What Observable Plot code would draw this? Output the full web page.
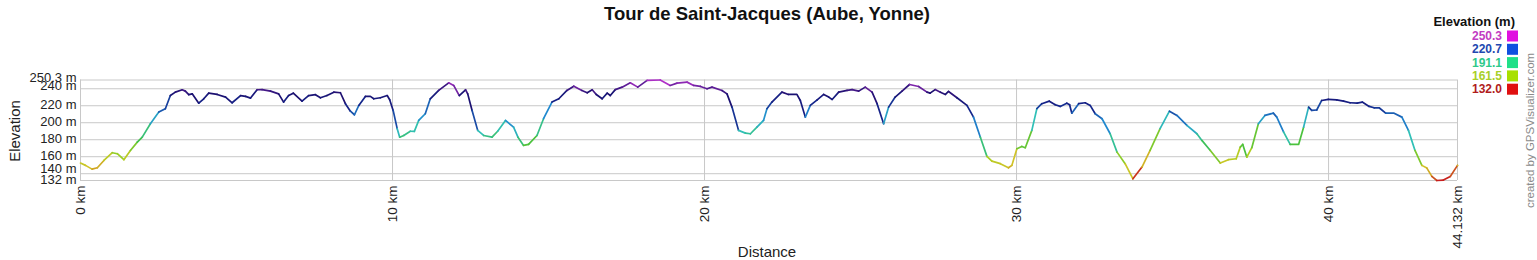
<!DOCTYPE html>
<html>
<head>
<meta charset="utf-8">
<script src="https://cdn.jsdelivr.net/npm/d3@7"></script>
<script src="https://cdn.jsdelivr.net/npm/@observablehq/plot@0.6"></script>
<style>
  html, body { margin: 0; padding: 0; background: #fff; }
  svg { display: block; }
</style>
</head>
<body>
<div id="chart"></div>
<script>
const title = "Tour de Saint-Jacques (Aube, Yonne)";
const xLabel = "Distance";
const yLabel = "Elevation";
const credit = "created by GPSVisualizer.com";
const legendTitle = "Elevation (m)";

const distanceKm = [
  0, 0.16, 0.37, 0.54, 0.75, 1.02, 1.18, 1.39, 1.60, 1.82, 1.98, 2.24, 2.51, 2.72, 2.88, 3.04, 3.26, 3.36, 3.47, 3.58,
  3.79, 3.95, 4.11, 4.38, 4.65, 4.86, 5.13, 5.29, 5.45, 5.66, 5.82, 6.09, 6.35, 6.51, 6.67, 6.82, 7.10, 7.31, 7.53, 7.69,
  7.90, 8.12, 8.33, 8.49, 8.65, 8.78, 8.92, 9.13, 9.29, 9.40, 9.61, 9.83, 9.91, 10.02, 10.15, 10.23, 10.36, 10.57, 10.70, 10.84,
  11.05, 11.21, 11.48, 11.80, 11.96, 12.14, 12.34, 12.41, 12.55, 12.73, 12.92, 13.19, 13.37, 13.62, 13.88, 14.02, 14.20, 14.36, 14.63, 14.84,
  15.11, 15.33, 15.59, 15.81, 16.07, 16.24, 16.40, 16.53, 16.72, 16.88, 16.98, 17.14, 17.36, 17.62, 17.86, 18.16, 18.58, 18.90, 19.12, 19.44,
  19.65, 19.87, 20.08, 20.24, 20.56, 20.72, 20.88, 21.09, 21.31, 21.47, 21.68, 21.89, 22.00, 22.16, 22.48, 22.69, 22.96, 23.07, 23.23, 23.39,
  23.61, 23.82, 23.98, 24.09, 24.30, 24.57, 24.73, 24.94, 25.15, 25.37, 25.53, 25.74, 25.90, 26.11, 26.33, 26.57, 26.86, 27.13, 27.23, 27.39,
  27.56, 27.72, 27.82, 28.09, 28.41, 28.62, 28.84, 29.05, 29.21, 29.48, 29.74, 29.85, 30.01, 30.17, 30.28, 30.49, 30.65, 30.81, 31.05, 31.24,
  31.40, 31.61, 31.70, 31.77, 31.99, 32.20, 32.36, 32.52, 32.74, 33.00, 33.22, 33.48, 33.73, 34.02, 34.28, 34.60, 34.90, 35.14, 35.46, 35.78,
  35.94, 36.21, 36.53, 36.79, 37.04, 37.17, 37.25, 37.38, 37.54, 37.75, 37.96, 38.23, 38.34, 38.56, 38.77, 39.04, 39.20, 39.36, 39.46, 39.62,
  39.78, 39.99, 40.26, 40.48, 40.69, 40.92, 41.08, 41.30, 41.46, 41.62, 41.83, 42.10, 42.35, 42.56, 42.77, 42.99, 43.15, 43.31, 43.47, 43.68,
  43.90, 44.132
];
const elevationM = [
  152.5, 149.8, 145.4, 147, 155.6, 164.7, 163.5, 156.5, 167.4, 177.2, 183, 198.8, 212.5, 216.5, 232, 236, 238.8, 237.2, 233, 234,
  223, 228.2, 234.8, 233.3, 230.2, 223.5, 232, 231, 229, 238.8, 239, 237.2, 234, 224.3, 232, 234.8, 225.4, 232, 233, 229.4,
  232, 236, 235.3, 222.4, 213.6, 209.4, 220.4, 231, 231, 228.2, 229.4, 232, 227, 214.5, 193, 183, 185, 190, 189.8, 202.7,
  210.6, 228.2, 238, 247, 243.9, 232, 238.8, 234, 214.5, 191, 185, 183, 190, 202.7, 194.8, 183, 173.3, 174.5, 185, 204.7,
  224.3, 228.2, 238, 243, 238, 235.3, 238.8, 233.3, 228.2, 234.8, 232, 239, 241.9, 247, 241.9, 249.8, 250.3, 243.9, 246.6, 247.8,
  243.9, 242.7, 240, 241.9, 238, 234, 218.4, 191, 187.8, 187, 194.8, 202.7, 216.5, 224.3, 236, 233.3, 233.3, 226.2, 206.6, 220.4,
  227, 233.3, 230.2, 227.4, 236, 238, 239, 237.2, 241.9, 236, 222.4, 198.8, 218.4, 230.2, 237.2, 245, 242.7, 236, 234.8, 239,
  236, 233.3, 236.8, 229.4, 220.4, 206.6, 183, 160.4, 154.8, 151.8, 147, 149.8, 169.4, 172.1, 170.6, 191, 216.5, 222.4, 225.4, 221.2,
  219.2, 223, 221.2, 211.3, 222.4, 223.5, 220.4, 210.6, 204.7, 187, 165.4, 151.8, 134, 147.8, 167.4, 193, 213.6, 208.6, 196.8, 187,
  179.2, 167.4, 152.5, 156.5, 157.6, 171.3, 174.5, 159.5, 170.6, 198.8, 208.6, 211.3, 206.6, 189, 174.5, 174.5, 194.8, 218.4, 214.5, 215,
  226.2, 227.4, 227, 225.4, 223.5, 223, 224.3, 219.2, 217.6, 217.6, 211.3, 211.3, 206.6, 191, 167.4, 149.8, 146.6, 136.8, 132.0, 132.5,
  136.8, 149.8
];

const xTicks = [0, 10, 20, 30, 40, 44.132];
const yTicks = [132, 140, 160, 180, 200, 220, 240, 250.3];

const legendValues = ["250.3", "220.7", "191.1", "161.5", "132.0"];
const legendTextColors = ["#c23cc2", "#2248b0", "#2ec98a", "#a8d028", "#b01c1c"];
const legendSwatchColors = ["#e010e0", "#1050e0", "#20e088", "#a8e000", "#e01010"];

const colorStops = [132, 142, 150, 161.5, 176, 191.1, 205, 220.7, 235, 250.3];
const colorRange = ["#c81e1e", "#d08a20", "#d0c428", "#a8d020", "#40c040", "#30c0b8", "#2088d0", "#14248a", "#1c1070", "#b030c8"];

const points = distanceKm.map((d, i) => ({km: d, elev: elevationM[i]}));

const W = 1537, H = 260;
const font = "'Liberation Sans', Arial, sans-serif";
const yFmt = d => `${d} m`;

const svg = Plot.plot({
  width: W,
  height: H,
  marginLeft: 80,
  marginRight: 80,
  marginTop: 79.5,
  marginBottom: 80,
  style: {fontFamily: font, fontSize: "13px", color: "#222", background: "#fff", overflow: "visible"},
  x: {domain: [0, 44.132]},
  y: {domain: [132, 250.3]},
  color: {type: "linear", domain: colorStops, range: colorRange},
  marks: [
    Plot.gridY(yTicks, {stroke: "#c8c8c8", strokeOpacity: 1}),
    Plot.gridX(xTicks, {stroke: "#c8c8c8", strokeOpacity: 1}),
    Plot.axisX(xTicks, {tickFormat: d => `${d} km`, tickRotate: -90, tickSize: 0, tickPadding: 5, fontSize: 13.5, label: null}),
    Plot.axisY(yTicks.filter(d => d !== 140 && d !== 250.3 && d !== 240), {tickFormat: yFmt, tickSize: 0, tickPadding: 4, label: null, dy: -1}),
    Plot.axisY([250.3, 240], {tickFormat: yFmt, tickSize: 0, tickPadding: 4, label: null, dy: -2.5}),
    Plot.axisY([140], {tickFormat: yFmt, tickSize: 0, tickPadding: 4, label: null, dy: -4.5}),
    Plot.line(points, {x: "km", y: "elev", z: null, stroke: "elev", strokeWidth: 1.7, curve: "linear"})
  ]
});

const s = d3.select(svg);
s.append("text").attr("x", 767).attr("y", 20).attr("text-anchor", "middle")
  .style("font", `bold 18.5px ${font}`).attr("fill", "#111").text(title);
s.append("text").attr("x", 767).attr("y", 257).attr("text-anchor", "middle")
  .style("font", `15px ${font}`).attr("fill", "#222").text(xLabel);
s.append("text").attr("transform", "translate(20,131) rotate(-90)").attr("text-anchor", "middle")
  .style("font", `15px ${font}`).attr("fill", "#222").text(yLabel);
s.append("text").attr("transform", "translate(1534,208) rotate(-90)").attr("text-anchor", "start")
  .style("font", `11.5px ${font}`).attr("fill", "#8a8a8a").text(credit);

s.append("text").attr("x", 1515).attr("y", 26).attr("text-anchor", "end")
  .style("font", `bold 13px ${font}`).attr("fill", "#111").text(legendTitle);
legendValues.forEach((v, i) => {
  const cy = 35.5 + i * 13.3;
  s.append("text").attr("x", 1502).attr("y", cy + 4.5).attr("text-anchor", "end")
    .style("font", `bold 12px ${font}`).attr("fill", legendTextColors[i]).text(v);
  s.append("rect").attr("x", 1507).attr("y", cy - 5).attr("width", 11).attr("height", 11)
    .attr("fill", legendSwatchColors[i]);
});

document.getElementById("chart").appendChild(svg);
</script>
</body>
</html>
